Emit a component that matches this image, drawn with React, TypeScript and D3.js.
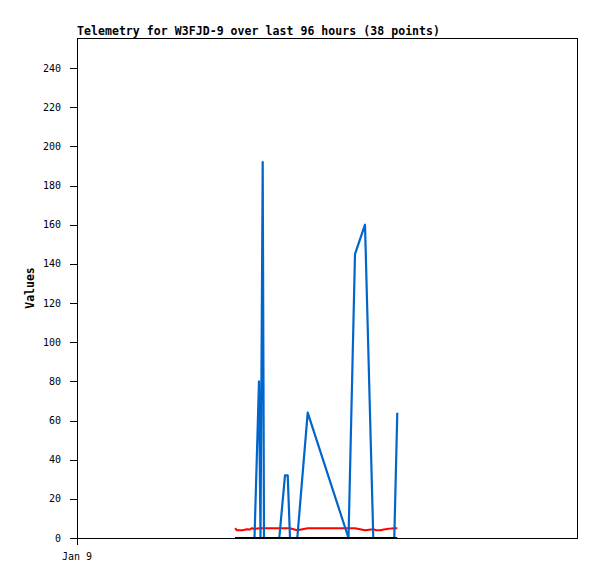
import React from "react";
import * as d3 from "d3";

// hours since Jan 9 00:00
const hours = [75.84, 76.8, 78.0, 79.2, 80.4, 81.6, 82.8, 84.0, 85.2, 87.36, 88.08, 89.14, 89.76, 90.96, 92.16, 93.6, 94.8, 96.0, 97.1, 99.84, 101.14, 102.24, 103.92, 105.74, 110.74, 130.32, 133.44, 138.24, 142.22, 143.52, 144.72, 145.92, 147.12, 148.32, 149.52, 150.72, 152.3, 153.74];
const blueValues = [0, 0, 0, 0, 0, 0, 0, 0, 0, 80, 0, 192, 0, 0, 0, 0, 0, 0, 0, 32, 32, 0, 0, 0, 64, 0, 145, 160, 0, 0, 0, 0, 0, 0, 0, 0, 0, 64];
const redValues = [5.0, 4.0, 4.0, 4.0, 4.2, 4.5, 4.3, 5.0, 4.6, 5.0, 5.0, 5.0, 5.0, 5.0, 5.0, 5.0, 5.0, 5.0, 5.0, 5.0, 5.0, 5.0, 4.5, 4.0, 5.0, 5.0, 5.0, 4.0, 4.5, 4.0, 4.0, 4.0, 4.3, 4.5, 4.7, 4.8, 5.0, 5.0];
const blackValues = [0, 0, 0, 0, 0, 0, 0, 0, 0, 0, 0, 0, 0, 0, 0, 0, 0, 0, 0, 0, 0, 0, 0, 0, 0, 0, 0, 0, 0, 0, 0, 0, 0, 0, 0, 0, 0, 0];
const yTicks = [0, 20, 40, 60, 80, 100, 120, 140, 160, 180, 200, 220, 240];
const xTicks = [{ h: 0, label: "Jan 9" }];
const title = "Telemetry for W3FJD-9 over last 96 hours (38 points)";
const yLabel = "Values";

const W = 597, H = 579;
const L = 77, R = 577, T = 38, B = 538;

export default function App() {
  const x = d3.scaleLinear().domain([0, 240]).range([L, R]);
  const y = d3.scaleLinear().domain([0, 240]).range([B, 68]);
  const mk = (vals: number[]) =>
    d3.line<number>().x((_, i) => x(hours[i])).y((v) => y(v))(vals) || "";
  const mono = "'DejaVu Sans Mono', 'Liberation Mono', monospace";
  return (
    <svg width={W} height={H} style={{ position: "absolute", left: 0, top: 0, background: "#fff" }}>
      <rect x={0} y={0} width={W} height={H} fill="#fff" />
      <text x={L} y={35} fontFamily={mono} fontWeight="bold" fontSize={11.5} fill="#000" textLength={363} lengthAdjust="spacing">{title}</text>
      <text transform={`translate(34,${(T + B) / 2}) rotate(-90)`} textAnchor="middle" fontFamily={mono} fontWeight="bold" fontSize={11.5} fill="#000">{yLabel}</text>
      {yTicks.map((t) => (
        <g key={t}>
          <line x1={70} x2={L} y1={Math.round(y(t)) + 0.5} y2={Math.round(y(t)) + 0.5} stroke="#000" strokeWidth={1} shapeRendering="crispEdges" />
          <text x={61} y={y(t)} dy="0.35em" textAnchor="end" fontFamily={mono} fontSize={10} fill="#000">{t}</text>
        </g>
      ))}
      {xTicks.map((t) => (
        <g key={t.label}>
          <line x1={x(t.h) + 0.5} x2={x(t.h) + 0.5} y1={B} y2={545} stroke="#000" strokeWidth={1} shapeRendering="crispEdges" />
          <text x={x(t.h)} y={560} textAnchor="middle" fontFamily={mono} fontSize={10} fill="#000">{t.label}</text>
        </g>
      ))}
      <path d={mk(redValues)} fill="none" stroke="#ff0000" strokeWidth={2} strokeLinejoin="round" />
      <path d={mk(blueValues)} fill="none" stroke="#0066cc" strokeWidth={2.2} strokeLinejoin="round" />
      <path d={mk(blackValues)} fill="none" stroke="#000000" strokeWidth={2} />
      <rect x={L + 0.5} y={T + 0.5} width={R - L} height={B - T} fill="none" stroke="#000" strokeWidth={1} shapeRendering="crispEdges" />
    </svg>
  );
}
